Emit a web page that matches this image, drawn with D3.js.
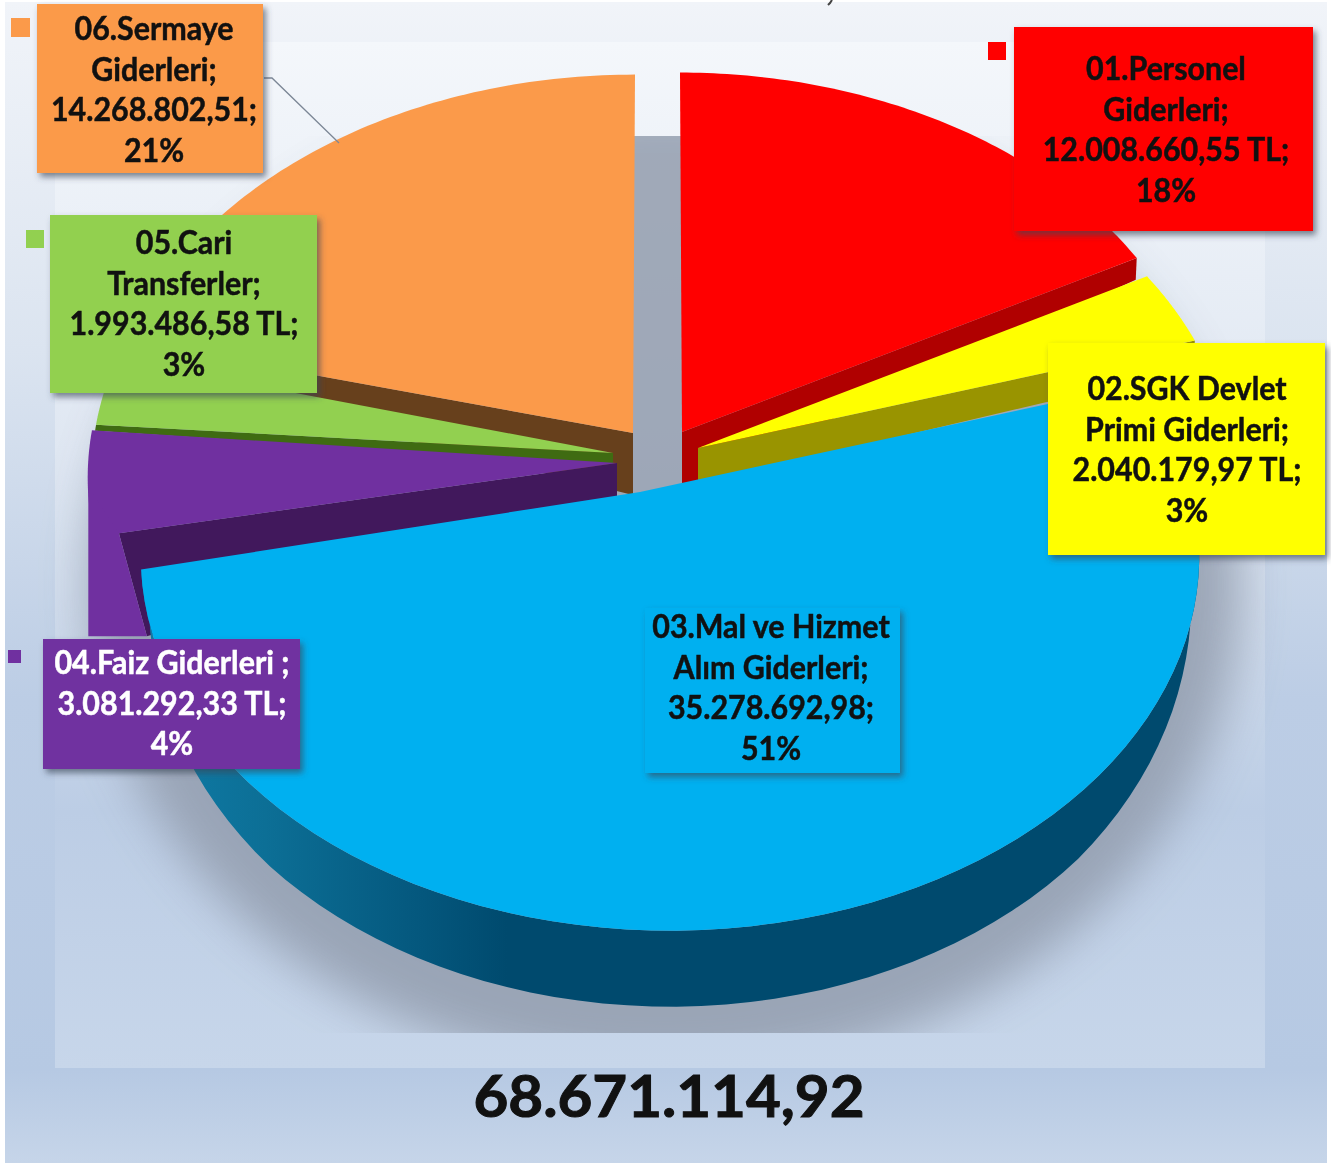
<!DOCTYPE html>
<html lang="tr">
<head>
  <meta charset="UTF-8">
  <title>Giderler</title>
  <script src="https://d3js.org/d3.v7.min.js"></script>
  <style>
    html, body { margin: 0; padding: 0; background: #fff; }
    svg { display: block; filter: blur(0.5px); }
    text { font-family: Lato, "Open Sans", sans-serif; font-weight: 700; }
  </style>
</head>
<body>
  <div id="chart"></div>

  <script>
  // chart data
  const categories = ['01.Personel Giderleri', '02.SGK Devlet Primi Giderleri', '03.Mal ve Hizmet Alım Giderleri', '04.Faiz Giderleri', '05.Cari Transferler', '06.Sermaye Giderleri'];
  const values = [12008660.55, 2040179.97, 35278692.98, 3081292.33, 1993486.58, 14268802.51];
  const labelLines = [
    ['01.Personel', 'Giderleri;', '12.008.660,55 TL;', '18%'],
    ['02.SGK Devlet', 'Primi Giderleri;', '2.040.179,97 TL;', '3%'],
    ['03.Mal ve Hizmet', 'Alım Giderleri;', '35.278.692,98;', '51%'],
    ['04.Faiz Giderleri ;', '3.081.292,33 TL;', '4%'],
    ['05.Cari', 'Transferler;', '1.993.486,58 TL;', '3%'],
    ['06.Sermaye', 'Giderleri;', '14.268.802,51;', '21%']
  ];
  const totalLabel = '68.671.114,92';

  // styles
  const topColors = ['#ff0000', '#ffff00', '#00b0f0', '#7030a0', '#92d050', '#fb9a4a'];
  const wallColors = ['#b00000', '#999400', '#004a6e', '#41185c', '#3f6b12', '#67401c'];
  const textColors = ['#111', '#111', '#111', '#fff', '#111', '#111'];

  // exploded layout, one entry per slice: rim origin, apex, wall depths
  const W = 1331, H = 1166;
  const slices3d = [
    { origin: [680, 400], apex: [682, 432], apexDepth: 56, edge: 'end',   shift: [0, 3.2] },
    { origin: [705, 435], apex: [698, 448], apexDepth: 36, edge: 'end',   shift: [0, 1] },
    { origin: [670, 508], apex: [640, 492], apexDepth: 0,  edge: null,    shift: [-4.2, 2] },
    { origin: [617, 430], apex: [617, 463], apexDepth: 36, edge: 'start', shift: [-4.8, -4.8] },
    { origin: [621, 425], apex: [613, 453], apexDepth: 12, edge: 'start', shift: [-4.7, -4.7], cornerDepth: 6 },
    { origin: [635, 402], apex: [633, 433], apexDepth: 62, edge: 'start', shift: [-5.5, 0] }
  ];
  const labelBoxes = [
    { x: 1014, y: 27,  w: 299, h: 204, cx: 1166, first: 69 },
    { x: 1048, y: 343, w: 277, h: 212, cx: 1187, first: 389 },
    { x: 645,  y: 608, w: 255, h: 165, cx: 771,  first: 627 },
    { x: 43,   y: 639, w: 257, h: 130, cx: 172,  first: 663 },
    { x: 50,   y: 215, w: 267, h: 178, cx: 184,  first: 243 },
    { x: 37,   y: 4,   w: 226, h: 169, cx: 154,  first: 29 }
  ];
  const legendKeys = [
    { x: 988, y: 42, s: 18 }, null, { x: 596, y: 618, s: 16 },
    { x: 8, y: 650, s: 13 }, { x: 26, y: 230, s: 18 }, { x: 11, y: 18, s: 19 }
  ];
  const linePitch = 40.7;

  const persp = 0.127;
  const rx = d3.scaleLinear().domain([0, 1]).range([0, 525]);
  const ry = d3.scaleLinear().domain([0, 1]).range([0, 369]);
  const rimDepth = d3.scaleLinear().domain([1, 0, -0.7, -1]).range([-1, 37, 70, 76]);
  const rad = d => d * Math.PI / 180;

  function project(origin, theta) {
    const X = Math.sin(theta), Y = Math.cos(theta), s = 1 / (1 + persp * Y);
    return [origin[0] + rx(X * s), origin[1] - ry(Y * s)];
  }

  const pie = d3.pie().value(d => d).sort(null);
  const arcs = pie(values);
  const line = d3.line();

  const svg = d3.select('#chart').append('svg').attr('width', W).attr('height', H);
  const defs = svg.append('defs');

  function vGrad(id, stops) {
    const g = defs.append('linearGradient').attr('id', id).attr('x1', 0).attr('x2', 0).attr('y1', 0).attr('y2', 1);
    stops.forEach(s => g.append('stop').attr('offset', s[0]).attr('stop-color', s[1]));
  }
  vGrad('outerBg', [[0, '#f1f4f9'], [0.3, '#dbe4f0'], [0.6, '#bccde5'], [0.92, '#b6c9e3'], [1, '#c6d5e9']]);
  vGrad('innerBg', [[0, '#f4f7fb'], [0.4, '#dfe7f2'], [0.75, '#bccde5'], [1, '#c7d6ea']]);

  const blueWall = defs.append('linearGradient').attr('id', 'blueWall')
    .attr('gradientUnits', 'userSpaceOnUse').attr('x1', 150).attr('x2', 1200).attr('y1', 0).attr('y2', 0);
  [[0, '#0f7ba6'], [0.11, '#0c6f96'], [0.26, '#04577d'], [0.34, '#004a6e'], [1, '#004a6e']]
    .forEach(s => blueWall.append('stop').attr('offset', s[0]).attr('stop-color', s[1]));

  defs.append('filter').attr('id', 'soft').attr('x', '-20%').attr('y', '-20%').attr('width', '140%').attr('height', '140%')
    .append('feGaussianBlur').attr('stdDeviation', 24);
  defs.append('filter').attr('id', 'boxShadow').attr('x', '-10%').attr('y', '-10%').attr('width', '125%').attr('height', '125%')
    .append('feDropShadow').attr('dx', 3).attr('dy', 4).attr('stdDeviation', 3).attr('flood-color', '#3a4656').attr('flood-opacity', 0.65);
  defs.append('clipPath').attr('id', 'shadowClip').append('rect')
    .attr('x', 0).attr('y', 136).attr('width', W).attr('height', 897);

  // background
  svg.append('rect').attr('x', 5).attr('y', 2).attr('width', W - 9).attr('height', H - 5).attr('fill', 'url(#outerBg)');
  svg.append('rect').attr('x', 55).attr('y', 42).attr('width', 1210).attr('height', 1026).attr('fill', 'url(#innerBg)');
  svg.append('g').attr('clip-path', 'url(#shadowClip)').append('ellipse')
    .attr('cx', 665).attr('cy', 585).attr('rx', 575).attr('ry', 490)
    .attr('fill', '#939dae').attr('opacity', 0.85).attr('filter', 'url(#soft)');

  // small tick left over from the cropped title at the top edge
  svg.append('path').attr('d', line([[832, 0], [830, 3], [828, 5]]))
    .attr('fill', 'none').attr('stroke', '#444').attr('stroke-width', 2);

  function rimPoints(i, steps) {
    const a = arcs[i], l = slices3d[i];
    const t0 = a.startAngle + rad(l.shift[0]), t1 = a.endAngle + rad(l.shift[1]);
    return d3.range(steps + 1).map(k => t0 + (t1 - t0) * k / steps);
  }

  function drawSlice(i) {
    const l = slices3d[i];
    const thetas = rimPoints(i, 80);
    const rim = thetas.map(t => project(l.origin, t));
    const g = svg.append('g').attr('class', 'slice').datum(categories[i]);

    if (i === 2) {
      // outer wall of the big slice, shrinks a little towards the far sides
      const t = 0.985;
      const bottom = thetas.map(th => {
        const p = project(l.origin, th);
        return [l.origin[0] + (p[0] - l.origin[0]) * t, p[1] + rimDepth(Math.cos(th))];
      });
      g.append('path').attr('d', line(rim.concat(bottom.reverse())) + 'Z').attr('fill', 'url(#blueWall)');
    }

    if (i === 3) {
      // purple has a tall outer face that shows beside the blue slice
      const c = rim[0];
      const f = 0.047;
      const a = [c[0] + (l.apex[0] - c[0]) * f, c[1] + (l.apex[1] - c[1]) * f];
      const a2 = [a[0] + 28, a[1] + 103];
      g.append('path').attr('d', line([l.apex, a, a2, [l.apex[0], l.apex[1] + l.apexDepth]]) + 'Z').attr('fill', wallColors[i]);
      g.append('path').attr('d', line([l.apex].concat(rim)) + 'Z').attr('fill', topColors[i]);
      g.append('path').attr('d', line([[c[0] - 6, c[1] - 50], a, a2, [c[0] - 6, a2[1]]]) + 'Z').attr('fill', topColors[i]);
      return;
    }

    if (l.edge) {
      const corner = l.edge === 'end' ? rim[rim.length - 1] : rim[0];
      const th = l.edge === 'end' ? thetas[thetas.length - 1] : thetas[0];
      const d = l.cornerDepth !== undefined ? l.cornerDepth : rimDepth(Math.cos(th));
      g.append('path')
        .attr('d', line([l.apex, corner, [corner[0] - 1, corner[1] + d], [l.apex[0], l.apex[1] + l.apexDepth]]) + 'Z')
        .attr('fill', wallColors[i]);
    }
    g.append('path').attr('d', line([l.apex].concat(rim)) + 'Z').attr('fill', topColors[i]);
  }

  [0, 1, 5, 4, 3, 2].forEach(drawSlice);

  // leader line of the orange label
  svg.append('path').attr('d', line([[264, 78], [272, 78], [339, 143]]))
    .attr('fill', 'none').attr('stroke', '#7c8796').attr('stroke-width', 1.3);

  // legend keys
  legendKeys.forEach((k, i) => {
    if (!k) return;
    svg.append('rect').attr('x', k.x).attr('y', k.y).attr('width', k.s).attr('height', k.s)
      .attr('fill', topColors[i]).attr('opacity', i === 2 ? 0.25 : 1);
  });

  // data labels
  labelBoxes.forEach((b, i) => {
    const g = svg.append('g').attr('class', 'label');
    g.append('rect').attr('x', b.x).attr('y', b.y).attr('width', b.w).attr('height', b.h)
      .attr('fill', topColors[i]).attr('filter', 'url(#boxShadow)');
    labelLines[i].forEach((s, j) => {
      const t = g.append('text').attr('x', b.cx).attr('y', b.first + j * linePitch + 11)
        .attr('text-anchor', 'middle').attr('font-size', 32).attr('fill', textColors[i])
        .attr('stroke', textColors[i]).attr('stroke-width', 0.5).text(s);
      const len = t.node().getComputedTextLength();
      t.attr('textLength', len * 0.95).attr('lengthAdjust', 'spacingAndGlyphs');
    });
  });

  // total under the pie
  svg.append('text').attr('x', 669).attr('y', 1117).attr('text-anchor', 'middle')
    .attr('font-size', 58).attr('fill', '#111').attr('stroke', '#111').attr('stroke-width', 1)
    .attr('textLength', 391).attr('lengthAdjust', 'spacingAndGlyphs').text(totalLabel);
  </script>
</body>
</html>
